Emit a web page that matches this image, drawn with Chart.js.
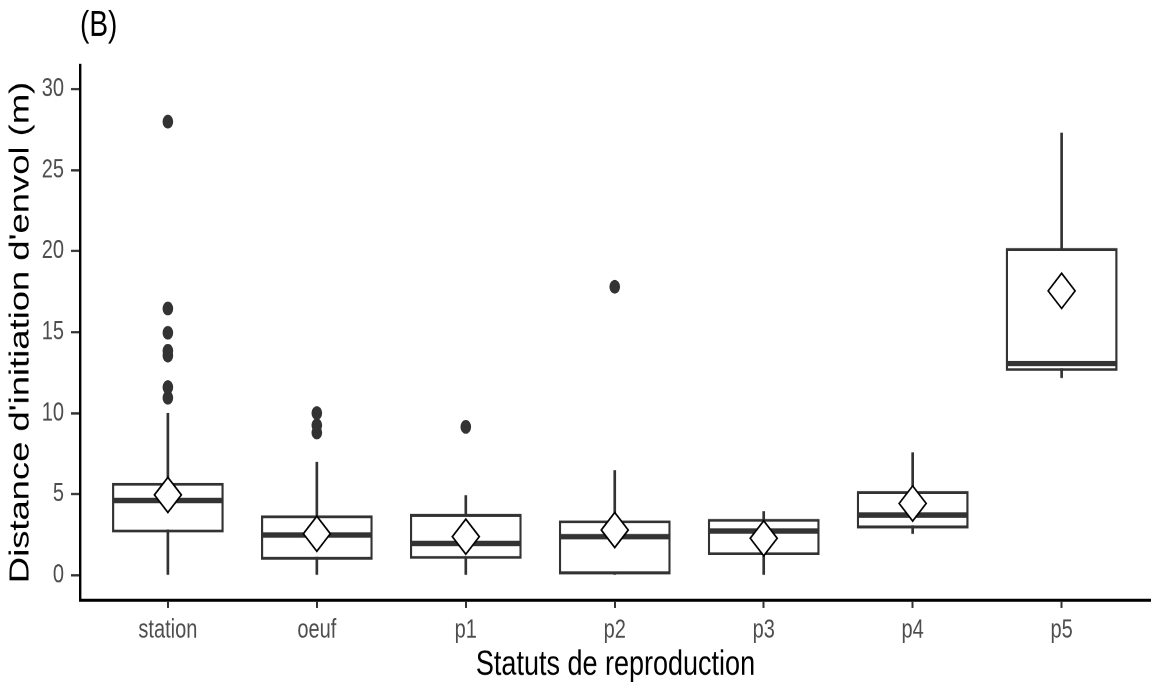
<!DOCTYPE html>
<html lang="fr">
<head>
<meta charset="UTF-8">
<title>Distance d'initiation d'envol</title>
<script src="https://cdn.jsdelivr.net/npm/chart.js"></script>
<style>
  html, body { margin: 0; padding: 0; background: #fff; }
  .page { width: 1151px; height: 688px; position: relative; overflow: hidden; }
  /* la figure d'origine est étirée verticalement : on fait pareil */
  .wrap { position: absolute; left: 0; top: 0; width: 1151px; height: 529px; transform: scaleY(1.3); transform-origin: 0 0; }
</style>
</head>
<body>
<div class="page"><div class="wrap"><canvas id="chart" width="1151" height="529"></canvas></div></div>
<script>
// valeurs
const categories = ['station', 'oeuf', 'p1', 'p2', 'p3', 'p4', 'p5'];
const whiskerLow  = [0, 0, 0, 0, 0, 2.57, 12.2];
const q1          = [2.63, 0.95, 1.0, 0, 1.23, 2.88, 12.6];
const medians     = [4.6, 2.47, 1.95, 2.37, 2.72, 3.7, 13.07];
const q3          = [5.7, 3.68, 3.78, 3.38, 3.47, 5.19, 20.2];
const whiskerHigh = [10.0, 6.95, 4.9, 6.45, 3.92, 7.55, 27.3];
const means       = [4.95, 2.55, 2.37, 2.78, 2.27, 4.42, 17.55];
const outliers = [
  [10.95, 11.6, 13.55, 13.85, 14.96, 16.46, 28.0],
  [8.8, 9.25, 10.0],
  [9.15],
  [17.8],
  [], [], []
];
const yTicks = [0, 5, 10, 15, 20, 25, 30];

const ink = '#333333';
const sans = "'Liberation Sans', Arial, Helvetica, sans-serif";

const outlierPts = [];
outliers.forEach((list, i) => list.forEach(v => outlierPts.push({ x: i, y: v })));

// demi-largeur des boîtes en pixels, via l'échelle x
function halfBox(ctx) {
  const s = ctx.chart.scales.x;
  return Math.abs(s.getPixelForValue(0.375) - s.getPixelForValue(0)) - 1;
}

new Chart(document.getElementById('chart'), {
  type: 'bar',
  data: {
    datasets: [
      {
        type: 'scatter',
        data: means.map((v, i) => ({ x: i, y: v })),
        pointStyle: 'rectRot',
        pointRadius: 13.5,
        backgroundColor: '#ffffff',
        borderColor: '#000000',
        borderWidth: 1.5,
        order: 1
      },
      {
        type: 'scatter',
        data: outlierPts,
        pointStyle: 'circle',
        pointRadius: 5.3,
        backgroundColor: ink,
        borderWidth: 0,
        order: 2
      },
      {
        type: 'scatter',
        data: medians.map((v, i) => ({ x: i, y: v })),
        pointStyle: 'line',
        pointRadius: halfBox,
        borderColor: ink,
        borderWidth: 4.2,
        order: 3
      },
      {
        data: categories.map((c, i) => ({ x: i, y: [q1[i], q3[i]] })),
        backgroundColor: '#ffffff',
        borderColor: ink,
        borderWidth: 2.3,
        borderSkipped: false,
        grouped: false,
        categoryPercentage: 1,
        barPercentage: 0.75,
        order: 4
      },
      {
        data: categories.map((c, i) => ({ x: i, y: [whiskerLow[i], whiskerHigh[i]] })),
        backgroundColor: ink,
        borderWidth: 0,
        barThickness: 2,
        grouped: false,
        order: 5
      }
    ]
  },
  options: {
    responsive: false,
    devicePixelRatio: 2,
    animation: false,
    layout: { padding: 0, autoPadding: false },
    plugins: {
      legend: { display: false },
      tooltip: { enabled: false },
      title: {
        display: true,
        text: '(B)',
        align: 'start',
        fullSize: false,
        color: '#000',
        font: { family: sans, size: 28, weight: 'normal', lineHeight: 1.2 },
        padding: { top: 3, bottom: 13.4 }
      }
    },
    scales: {
      x: {
        type: 'linear',
        min: -0.59,
        max: 6.6,
        offset: false,
        afterBuildTicks: s => { s.ticks = categories.map((c, i) => ({ value: i })); },
        afterFit: s => { s.height = 67.5; s.paddingLeft = 0; s.paddingRight = 0; },
        ticks: {
          callback: v => categories[v],
          color: '#4d4d4d',
          font: { family: sans, size: 20 },
          padding: 5.5,
          maxRotation: 0,
          autoSkip: false
        },
        grid: { offset: false, drawOnChartArea: false, drawTicks: true, tickLength: 6, tickColor: ink, tickWidth: 2 },
        border: { display: true, color: '#000', width: 2.4 },
        title: {
          display: true,
          text: 'Statuts de reproduction',
          color: '#000',
          font: { family: sans, size: 27, lineHeight: 1.2 },
          padding: { top: 0, bottom: 1.5 }
        }
      },
      y: {
        type: 'linear',
        min: -1.54,
        max: 31.5,
        afterBuildTicks: s => { s.ticks = yTicks.map(v => ({ value: v })); },
        afterFit: s => { s.width = 80; s.paddingTop = 0; s.paddingBottom = 0; },
        ticks: {
          color: '#4d4d4d',
          font: { family: sans, size: 20 },
          padding: 7
        },
        grid: { drawOnChartArea: false, drawTicks: true, tickLength: 9, tickColor: ink, tickWidth: 1.8 },
        border: { display: true, color: '#000', width: 2.4 },
        title: {
          display: true,
          text: "Distance d'initiation d'envol (m)",
          color: '#000',
          font: { family: sans, size: 28, lineHeight: 1.2 },
          padding: { top: 4, bottom: 0 }
        }
      }
    }
  }
});
</script>
</body>
</html>
